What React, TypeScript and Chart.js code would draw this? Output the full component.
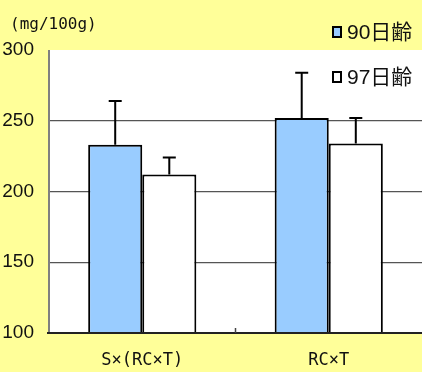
import React, { useEffect, useRef } from 'react';
import { Chart, registerables } from 'chart.js';

Chart.register(...registerables);

const categories = ['S×(RC×T)', 'RC×T'];
const seriesLabels = ['90日齢', '97日齢'];
const day90 = [233, 252];
const day90Err = [31, 32];
const day97 = [212, 234];
const day97Err = [12, 18];
const yMin = 100;
const yMax = 300;
const yStep = 50;
const unitLabel = '(mg/100g)';

const errors = [day90Err, day97Err];
const fills = ['#99CCFF', '#FFFFFF'];

const decor = {
  id: 'decor',
  beforeDraw(chart: any) {
    const { ctx, chartArea } = chart;
    const { left, top, right, bottom } = chartArea;
    ctx.save();
    ctx.fillStyle = '#FFFF99';
    ctx.fillRect(0, 0, chart.width, chart.height);
    ctx.fillStyle = '#FFFFFF';
    ctx.fillRect(left, top, right - left, bottom - top);
    ctx.restore();
  },
  afterDatasetsDraw(chart: any) {
    const { ctx } = chart;
    const ys = chart.scales.y;
    const xs = chart.scales.x;
    ctx.save();
    ctx.strokeStyle = '#000';
    ctx.lineWidth = 2;
    chart.data.datasets.forEach((ds: any, i: number) => {
      const meta = chart.getDatasetMeta(i);
      meta.data.forEach((bar: any, j: number) => {
        const x = bar.x;
        const base = ys.getPixelForValue(ds.data[j]);
        const tip = ys.getPixelForValue(ds.data[j] + errors[i][j]);
        ctx.beginPath();
        ctx.moveTo(x, base);
        ctx.lineTo(x, tip);
        ctx.moveTo(x - 6.5, tip);
        ctx.lineTo(x + 6.5, tip);
        ctx.stroke();
      });
    });
    const { left, bottom, top, right } = chart.chartArea;
    ctx.strokeStyle = '#808080';
    ctx.lineWidth = 2;
    ctx.beginPath();
    ctx.moveTo(left, top);
    ctx.lineTo(left, bottom);
    ctx.stroke();
    ctx.strokeStyle = '#222';
    ctx.beginPath();
    ctx.moveTo(left - 2, bottom);
    ctx.lineTo(right, bottom);
    ctx.stroke();
    ctx.lineWidth = 1.5;
    ctx.strokeStyle = '#444';
    for (let k = 0; k < categories.length - 1; k++) {
      const mid = (xs.getPixelForValue(k) + xs.getPixelForValue(k + 1)) / 2;
      ctx.beginPath();
      ctx.moveTo(mid, bottom);
      ctx.lineTo(mid, bottom - 5);
      ctx.stroke();
    }
    ctx.restore();
  },
  afterDraw(chart: any) {
    const { ctx } = chart;
    ctx.save();
    ctx.fillStyle = '#111';
    ctx.font = "16px 'DejaVu Sans Mono', monospace";
    ctx.textAlign = 'left';
    ctx.textBaseline = 'middle';
    ctx.fillText(unitLabel, 10, 25);
    const items = [
      { y: 32, fill: fills[0] },
      { y: 77, fill: fills[1] },
    ];
    items.forEach((it, i) => {
      ctx.fillStyle = it.fill;
      ctx.fillRect(333, it.y - 5, 8, 10);
      ctx.strokeStyle = '#000';
      ctx.lineWidth = 2;
      ctx.strokeRect(333, it.y - 5, 8, 10);
      ctx.fillStyle = '#111';
      ctx.font = "21px 'Liberation Sans', 'Noto Sans CJK JP', sans-serif";
      ctx.textAlign = 'left';
      ctx.textBaseline = 'middle';
      ctx.fillText(seriesLabels[i], 347, it.y + 1);
    });
    ctx.restore();
  },
};

export default function App() {
  const ref = useRef<HTMLCanvasElement | null>(null);
  useEffect(() => {
    document.body.style.margin = '0';
    const canvas = ref.current!;
    const chart = new Chart(canvas, {
      type: 'bar',
      data: {
        labels: categories,
        datasets: [
          {
            label: seriesLabels[0],
            data: day90,
            backgroundColor: fills[0],
            borderColor: '#000',
            borderWidth: 2,
            categoryPercentage: 0.58,
            barPercentage: 1.0,
          },
          {
            label: seriesLabels[1],
            data: day97,
            backgroundColor: fills[1],
            borderColor: '#000',
            borderWidth: 2,
            categoryPercentage: 0.58,
            barPercentage: 1.0,
          },
        ],
      },
      options: {
        responsive: false,
        animation: false,
        devicePixelRatio: 1,
        layout: { padding: { top: 50, right: -2, left: 0, bottom: 0 } },
        plugins: {
          legend: { display: false },
          tooltip: { enabled: false },
          title: { display: false },
        },
        scales: {
          x: {
            grid: { display: false, drawTicks: false },
            border: { display: false },
            ticks: {
              color: '#111',
              padding: 17,
              font: { family: "'DejaVu Sans Mono', monospace", size: 17 },
            },
            afterFit(scale: any) {
              scale.height = 39;
            },
          },
          y: {
            min: yMin,
            max: yMax,
            grid: {
              drawTicks: false,
              color: (c: any) => (c.tick && (c.tick.value === yMin || c.tick.value === yMax) ? 'rgba(0,0,0,0)' : '#555'),
              lineWidth: 1.3,
            },
            border: { display: false },
            ticks: {
              stepSize: yStep,
              color: '#111',
              padding: 15,
              font: { family: "'Liberation Sans', Arial, sans-serif", size: 19 },
            },
            afterFit(scale: any) {
              scale.width = 49;
            },
          },
        },
      },
      plugins: [decor],
    });
    return () => chart.destroy();
  }, []);
  return (
    <div style={{ width: 422, height: 372 }}>
      <canvas ref={ref} width={422} height={372} style={{ display: 'block' }} />
    </div>
  );
}
